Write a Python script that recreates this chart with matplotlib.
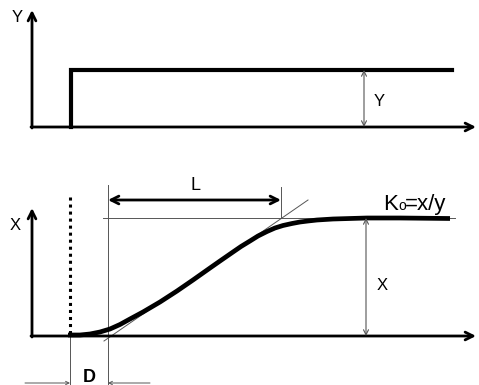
import matplotlib.pyplot as plt

plt.rcParams["font.family"] = ["Liberation Sans", "DejaVu Sans"]

# step input (top panel), image pixel units
step_x = [71, 71, 452]
step_y = [127, 70, 70]

# process response (bottom panel)
curve_x = [68, 80, 90, 100, 110, 120, 130, 143, 160, 177, 193, 210, 220,
           233, 241, 250, 258, 267, 275, 283, 292, 300, 308, 317, 333, 350,
           367, 400, 450]
curve_y = [335, 335, 334, 332, 329, 324.5, 319, 312, 302, 291, 280, 268, 261,
           252, 246.5, 241, 236, 231.5, 228, 225.5, 223.5, 222, 221, 220, 219,
           218.5, 218, 218, 218.5]

# tangent at the inflection point
tangent_x = [104, 308]
tangent_y = [341, 200]

t_step = 70        # moment of the step (dotted line)
t_dead_end = 108   # end of dead time D
t_l_end = 281      # end of L
x_final = 218      # steady state level
top_base = 127
bottom_base = 336

fig = plt.figure(figsize=(4.79, 3.85), dpi=100)
ax = fig.add_axes([0, 0, 1, 1])
ax.set_xlim(0, 479)
ax.set_ylim(385, 0)
ax.axis("off")

def arrow(x0, y0, x1, y1, style="->", lw=1.8, ms=14, color="black"):
    ax.annotate("", xy=(x1, y1), xytext=(x0, y0),
                arrowprops=dict(arrowstyle=style, lw=lw, color=color,
                                mutation_scale=ms, shrinkA=0, shrinkB=0))

thin = "#555555"

# ---- top panel ----
arrow(32, top_base + 1, 32, 10, lw=2.0)
arrow(31, top_base, 476, top_base, lw=2.0)
ax.plot(step_x, step_y, color="black", lw=3.0, solid_joinstyle="miter")
arrow(364, step_y[1], 364, top_base, style="<->", lw=0.8, ms=9, color=thin)
ax.text(17, 17, "Y", fontsize=12, ha="center", va="center")
ax.text(379, 101, "Y", fontsize=12, ha="center", va="center")

# ---- bottom panel ----
arrow(32, bottom_base + 1, 32, 208, lw=2.0)
arrow(31, bottom_base, 476, bottom_base, lw=2.0)
ax.text(15, 226, "X", fontsize=12, ha="center", va="center")

ax.plot([t_step, t_step], [197, 333], color="black", lw=2.2,
        linestyle=(0, (1, 1.3)), dash_capstyle="butt")

# reference lines
ax.plot([103, 455], [x_final, x_final], color=thin, lw=0.7)
ax.plot(tangent_x, tangent_y, color=thin, lw=0.7)
ax.plot([t_dead_end, t_dead_end], [185, 385], color=thin, lw=0.7)
ax.plot([t_l_end, t_l_end], [187, x_final], color=thin, lw=0.7)
ax.plot([t_step, t_step], [bottom_base, 385], color=thin, lw=0.7)

ax.plot(curve_x, curve_y, color="black", lw=3.4, solid_capstyle="butt",
        solid_joinstyle="round")

# L
arrow(t_l_end, 200, t_dead_end, 200, style="<->", lw=2.0, ms=14)
ax.text(196, 185, "L", fontsize=13, ha="center", va="center")

# x dimension
arrow(366, x_final, 366, bottom_base, style="<->", lw=0.8, ms=9, color=thin)
ax.text(382, 285, "X", fontsize=12, ha="center", va="center")

# K0=x/y
ax.text(383, 210, "K", fontsize=16, ha="left", va="baseline")
ax.text(398, 210, "o", fontsize=10, ha="left", va="baseline")
ax.text(405, 210, "=x/y", fontsize=16, ha="left", va="baseline")

# D
arrow(25, 383, t_step, 383, lw=0.7, ms=6, color=thin)
arrow(150, 383, t_dead_end, 383, lw=0.7, ms=6, color=thin)
ax.text(89, 377, "D", fontsize=13, fontweight="bold", ha="center", va="center")

fig.savefig("out.png", dpi=100, facecolor="white")
